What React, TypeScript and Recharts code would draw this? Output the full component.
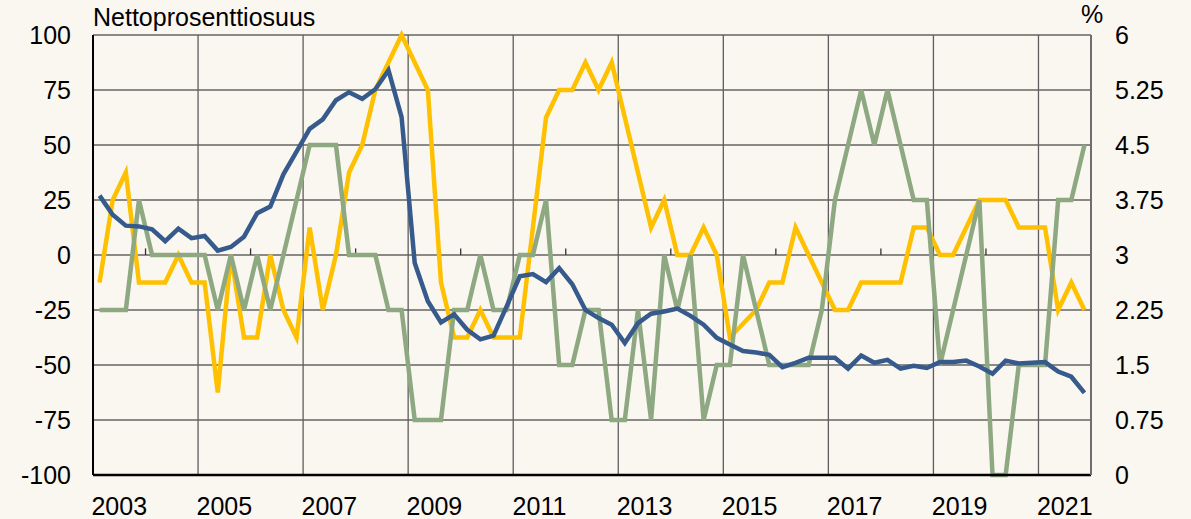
import React from 'react';
import { LineChart, Line, XAxis, YAxis, CartesianGrid, ReferenceLine } from 'recharts';

const BG = '#FAF6F0';

// Quarterly categories 2003Q1 .. 2021Q4
const years: number[] = [2003, 2004, 2005, 2006, 2007, 2008, 2009, 2010, 2011, 2012, 2013, 2014, 2015, 2016, 2017, 2018, 2019, 2020, 2021];
const quarters: string[] = years.flatMap((y) => [`${y}Q1`, `${y}Q2`, `${y}Q3`, `${y}Q4`]);

// X tick labels (centred in the year), gridline years
const yearLabels: string[] = ['2003', '2005', '2007', '2009', '2011', '2013', '2015', '2017', '2019', '2021'];
const gridYears: number[] = [2005, 2007, 2009, 2011, 2013, 2015, 2017, 2019, 2021];
const minorTickYears: number[] = [2004, 2006, 2008, 2010, 2012, 2014, 2016, 2018, 2020];

// Left axis ticks (net percentage) and right axis ticks (%)
const leftTicks: number[] = [-100, -75, -50, -25, 0, 25, 50, 75, 100];
const rightTicks: number[] = [0, 0.75, 1.5, 2.25, 3, 3.75, 4.5, 5.25, 6];

// Yellow series (net percentage, left axis)
const yellow: number[] = [
  -12.5, 25, 37.5, -12.5, -12.5, -12.5, 0, -12.5,
  -12.5, -62.5, 0, -37.5, -37.5, 0, -25, -37.5,
  12.5, -25, 0, 37.5, 50, 75, 87.5, 100,
  87.5, 75, -12.5, -37.5, -37.5, -25, -37.5, -37.5,
  -37.5, 12.5, 62.5, 75, 75, 87.5, 75, 87.5,
  62.5, 37.5, 12.5, 25, 0, 0, 12.5, 0,
  -37.5, -31.25, -25, -12.5, -12.5, 12.5, 0, -12.5,
  -25, -25, -12.5, -12.5, -12.5, -12.5, 12.5, 12.5,
  0, 0, 12.5, 25, 25, 25, 12.5, 12.5,
  12.5, -25, -12.5, -25,
];

// Green series (net percentage, left axis)
const green: number[] = [
  -25, -25, -25, 25, 0, 0, 0, 0,
  0, -25, 0, -25, 0, -25, 0, 25,
  50, 50, 50, 0, 0, 0, -25, -25,
  -75, -75, -75, -25, -25, 0, -25, -25,
  0, 0, 25, -50, -50, -25, -25, -75,
  -75, -25, -75, 0, -25, 0, -75, -50,
  -50, 0, -25, -50, -50, -50, -50, -25,
  25, 50, 75, 50, 75, 50, 25, 25,
  -50, -25, 0, 25, -100, -100, -50, -50,
  -50, 25, 25, 50,
];

// Blue series (%, right axis)
const blue: number[] = [
  3.81, 3.55, 3.40, 3.39, 3.35, 3.19, 3.36, 3.23,
  3.26, 3.06, 3.11, 3.25, 3.57, 3.66, 4.10, 4.41,
  4.72, 4.85, 5.11, 5.22, 5.13, 5.26, 5.52, 4.88,
  2.89, 2.37, 2.08, 2.19, 1.98, 1.85, 1.90, 2.30,
  2.71, 2.74, 2.63, 2.82, 2.60, 2.25, 2.14, 2.05,
  1.80, 2.07, 2.20, 2.23, 2.27, 2.17, 2.05, 1.87,
  1.78, 1.69, 1.67, 1.64, 1.47, 1.53, 1.60, 1.60,
  1.60, 1.45, 1.63, 1.53, 1.57, 1.45, 1.49, 1.46,
  1.54, 1.54, 1.56, 1.48, 1.38, 1.56, 1.52, 1.53,
  1.54, 1.41, 1.34, 1.12,
];

const firstYear = years[0];
// position on the numeric quarter axis: quarter index + 0.5 (centre of the quarter)
const data = quarters.map((q, i) => ({ q, x: i + 0.5, yellow: yellow[i], green: green[i], blue: blue[i] }));
const yearStart = (y: number) => (y - firstYear) * 4;
const labelTicks = yearLabels.map((y) => yearStart(Number(y)) + 2);

const FONT = '"Liberation Sans", Arial, sans-serif';
const FS = 25;

export default function App() {
  return (
    <div style={{ position: 'relative', width: 1191, height: 519, background: BG, fontFamily: FONT }}>
      <style>{`html,body{margin:0;padding:0;background:${BG};}`}</style>
      <LineChart width={1191} height={519} data={data} margin={{ top: 35, right: 0, bottom: 0, left: 0 }}>
        <CartesianGrid yAxisId="left" vertical={false} stroke="#1c1c1c" strokeWidth={1.2} />
        {gridYears.map((y) => (
          <ReferenceLine key={`g${y}`} yAxisId="left" x={yearStart(y)} stroke="#5e5e5e" strokeWidth={1.3} />
        ))}
        {minorTickYears.map((y) => (
          <ReferenceLine
            key={`m${y}`}
            yAxisId="left"
            segment={[{ x: yearStart(y), y: 0 }, { x: yearStart(y), y: 3 }]}
            stroke="#333"
            strokeWidth={1.3}
          />
        ))}
        <XAxis
          dataKey="x"
          type="number"
          domain={[0, 76]}
          ticks={labelTicks}
          tickFormatter={(v: number) => String(firstYear + (v - 2) / 4)}
          interval={0}
          allowDataOverflow
          height={44}
          tickLine={false}
          tickSize={0}
          tickMargin={22}
          axisLine={{ stroke: '#000', strokeWidth: 2.5 }}
          tick={{ fontSize: FS, fill: '#000', fontFamily: FONT }}
        />
        <YAxis
          yAxisId="left"
          orientation="left"
          domain={[-100, 100]}
          ticks={leftTicks}
          interval={0}
          width={93}
          tickLine={false}
          tickSize={0}
          tickMargin={22}
          axisLine={{ stroke: '#000', strokeWidth: 2 }}
          tick={{ fontSize: FS, fill: '#000', fontFamily: FONT }}
        />
        <YAxis
          yAxisId="right"
          orientation="right"
          domain={[0, 6]}
          ticks={rightTicks}
          interval={0}
          width={100}
          tickLine={false}
          tickSize={0}
          tickMargin={24}
          axisLine={{ stroke: '#6e6e6e', strokeWidth: 2 }}
          tick={{ fontSize: FS, fill: '#000', fontFamily: FONT }}
        />
        <Line yAxisId="left" type="linear" dataKey="yellow" stroke="#FFC000" strokeWidth={4.5} dot={false} isAnimationActive={false} />
        <Line yAxisId="left" type="linear" dataKey="green" stroke="#8EA882" strokeWidth={4.5} dot={false} isAnimationActive={false} />
        <Line yAxisId="right" type="linear" dataKey="blue" stroke="#375A8C" strokeWidth={4.5} dot={false} isAnimationActive={false} />
      </LineChart>
      <svg width={1191} height={519} style={{ position: 'absolute', left: 0, top: 0, pointerEvents: 'none' }}>
        <text x={93} y={26} fontSize={FS} fill="#000" fontFamily={FONT}>Nettoprosenttiosuus</text>
        <text x={1092} y={23} fontSize={FS} fill="#000" fontFamily={FONT} textAnchor="middle">%</text>
      </svg>
    </div>
  );
}
